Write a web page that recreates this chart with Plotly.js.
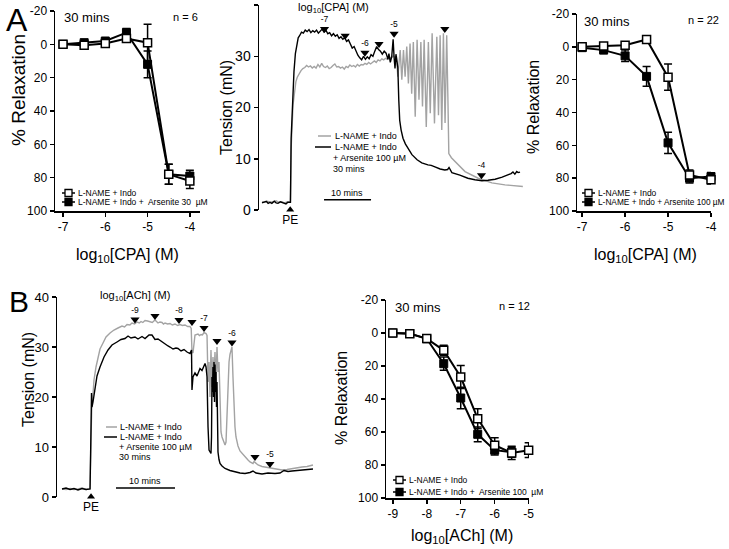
<!DOCTYPE html>
<html><head><meta charset="utf-8">
<script src="https://cdn.plot.ly/plotly-3.0.1.min.js"></script>
<style>html,body{margin:0;padding:0;background:#fff}#chart{width:729px;height:549px}</style>
</head><body><div id="chart"></div>
<script>
// ---------- Panel A (left): CPA, arsenite 30 µM, n = 6 ----------
const cpaDoses = [-7, -6.5, -6, -5.5, -5, -4.5, -4];
const aLeftIndo = [0, 0.5, -0.5, -3.5, -1, 78, 82];
const aLeftIndoErr = [1, 1, 1, 2, 11, 6, 4.5];
const aLeftArs = [0, -1, -2, -7, 12, 78, 79];
const aLeftArsErr = [1, 1, 1, 2.5, 8, 6, 3.5];

// ---------- Panel A (right): CPA, arsenite 100 µM, n = 22 ----------
const aRightIndo = [0, -0.5, -1, -4.5, 18.5, 78, 81];
const aRightIndoErr = [1.5, 1, 1, 2, 8, 3, 2.5];
const aRightArs = [0.5, 2, 5.5, 18, 58.5, 80, 79];
const aRightArsErr = [1.5, 1.5, 3.5, 6, 6.5, 3, 2.5];

// ---------- Panel B (right): ACh, arsenite 100 µM, n = 12 ----------
const achDoses = [-9, -8.5, -8, -7.5, -7, -6.5, -6, -5.5, -5];
const bRightIndo = [0, 0.4, 3.4, 10.5, 26.7, 51.9, 68, 72.7, 71];
const bRightIndoErr = [1, 1, 1.5, 3, 7, 6, 4.5, 4, 4.5];
const bRightArs = [0, 0.3, 3.5, 18.6, 39.4, 61.4, 71, 72.3, null];
const bRightArsErr = [1, 1, 1.5, 4, 6.5, 4.5, 3, 3, 0];

// ---------- Panel A (middle): tension trace, CPA (time in min, tension in mN) ----------
const aGreyTime = [0,0.6,1.2,1.8,2.4,3.0,3.6,4.2,4.8,5.4,5.9,6.05,6.2,6.4,6.6,6.8,7.0,7.2,7.5,7.7,8.0,8.3,8.7,9.1,9.5,9.9,10.3,10.7,11.1,11.5,11.9,12.3,12.7,13.1,13.5,13.9,14.3,14.7,15.1,15.5,15.9,16.3,16.7,17.1,17.5,17.9,18.3,18.7,19.1,19.5,19.9,20.3,20.7,21.1,21.5,21.9,22.3,22.7,23.1,23.5,23.9,24.3,24.7,25.1,25.5,25.9,26.3,26.7,27.1,27.5,27.9,28.3,28.6,28.9,29.4,29.75,30.1,30.45,30.8,31.15,31.5,31.85,32.2,32.6,33.0,33.4,33.8,34.15,34.5,34.95,35.4,35.8,36.2,36.7,37.2,37.55,37.9,38.25,38.6,38.95,39.3,39.55,39.75,40.3,41.5,43.2,46.0,48.9,51.7,54.5,55.5];
const aGreyTension = [1.6,1.5,1.7,1.5,1.6,1.8,1.5,1.6,1.4,1.6,1.5,1.6,12,18,20.5,22,23.8,25,25.9,26.3,26.9,27.2,27.6,27.8,28.2,27.9,28.1,27.7,28.0,27.7,28.4,27.9,28.6,28.0,27.8,28.1,27.6,27.8,28.2,28.5,27.9,28.0,27.7,27.9,27.5,28.0,27.8,28.3,28.0,28.2,27.9,28.4,28.1,28.4,28.3,28.6,28.4,28.8,28.5,28.9,29.1,28.8,29.3,29.1,29.5,29.3,29.6,29.4,29.9,29.6,30.1,29.7,30.0,26.0,31.2,25.4,31.2,26.0,31.9,24.7,32.5,22.7,32.8,18.2,33.2,21.5,32.8,20.2,33.2,16.2,32.8,18.9,34.5,16.9,33.8,18.5,34.1,15.6,34.5,17.0,34.1,22,11,10.2,9.1,7.5,6.2,5.3,4.9,4.7,4.6];
const aBlackTime = [0,0.5,0.9,1.3,1.7,2.1,2.6,3.0,3.4,3.9,4.3,4.7,5.1,5.5,5.9,6.05,6.2,6.5,6.8,7.1,7.4,7.7,8.0,8.4,8.8,9.2,9.6,10.0,10.4,10.8,11.2,11.6,12.0,12.4,12.8,13.2,13.6,14.0,14.4,14.8,15.2,15.6,16.0,16.4,16.8,17.2,17.6,18.0,18.4,18.8,19.2,19.6,20.0,20.4,20.8,21.2,21.6,22.0,22.4,22.8,23.2,23.6,24.0,24.4,24.8,25.2,25.6,26.0,26.4,26.8,27.0,27.3,27.6,27.9,28.1,28.3,28.5,28.7,28.9,29.1,29.3,29.6,30.0,30.5,31.1,31.9,33.0,34.0,35.3,36.0,36.8,37.9,38.9,39.5,39.8,40.1,40.4,42.1,43.8,45.3,46.8,48.1,49.6,51.1,52.3,53.0,53.4,53.8,54.2,54.5,54.9];
const aBlackTension = [1.4,1.6,1.7,1.3,1.5,1.3,1.7,1.4,1.3,1.6,1.5,1.3,1.2,1.5,1.4,1.5,14,22,27,30.5,32.5,33.6,34.0,34.7,34.5,35.1,34.8,35.2,34.6,35.0,34.7,35.1,34.5,35.0,35.3,34.7,35.1,34.4,34.6,34.0,34.4,33.9,34.2,33.5,33.8,33.3,33.6,32.9,33.2,32.4,31.6,31.9,31.0,30.2,29.7,29.3,30.0,29.4,29.9,29.5,30.3,30.0,31.0,31.9,31.3,31.0,30.4,31.0,30.6,29.4,30.5,28.8,29.9,33.3,29.8,27.6,30.4,28.3,27.8,21.5,17.5,15.6,14,12.9,12,10.8,9.8,9.2,8.8,8.7,8.4,8.0,7.8,7.9,8.3,7.6,7.3,6.8,6.2,5.9,5.7,5.8,6.0,6.4,6.8,7.1,7.4,7.0,7.5,7.3,7.4];
const aArrowTime = [13.3, 17.7, 21.9, 24.9, 28.1, 38.9, 46.7];
const aArrowTension = [35.3, 34.0, 30.7, 32.4, 34.4, 35.3, 6.8];
const aArrowLabels = ['-7', '', '-6', '', '-5', '', '-4'];
const aPETime = [6.0], aPETension = [0.05];
const aScaleStart = 13.2, aScaleLen = 10, aScaleLevel = 2.0;

// ---------- Panel B (left): tension trace, ACh ----------
const bGreyTime = [0,0.7,1.4,2.0,2.7,3.4,4.1,4.75,4.92,5.08,5.25,5.42,5.76,6.10,6.44,6.95,7.46,8.14,8.81,9.49,10.17,10.6,11.02,11.5,11.86,12.3,12.71,13.1,13.39,13.7,14.07,14.5,14.92,15.3,15.76,16.0,16.27,16.6,16.95,17.2,17.46,17.9,18.31,18.7,19.15,19.6,20.0,20.4,20.85,21.3,21.69,21.9,22.03,22.2,22.37,22.54,23.05,23.3,23.56,23.8,24.07,24.41,24.58,24.75,24.92,25.08,25.25,25.42,25.59,25.76,25.93,26.10,26.27,26.44,26.61,26.78,26.95,27.12,27.46,27.63,27.80,27.97,28.14,28.31,28.47,28.64,28.81,28.98,29.15,29.32,29.49,29.83,30.17,30.51,31.02,31.53,31.86,32.37,32.54,32.71,33.22,33.90,34.75,35.59,36.44,37.29,38.14,38.98,39.83,40.68,41.53,42.20,42.54];
const bGreyTension = [1.6,1.5,1.7,1.5,1.6,1.8,1.5,1.6,12,19.5,20.5,23.4,26,28,29.6,30.8,32,32.8,33.4,33.8,34.2,34.0,34.5,34.4,34.8,34.6,35.0,34.8,35.1,34.9,35.3,35.2,35.1,34.9,35.4,35.0,34.8,35.0,34.9,34.6,34.8,34.6,34.7,34.4,34.6,34.3,34.5,34.3,34.4,34.1,34.1,33.7,29,28.8,31,32.4,32.6,32.3,32.5,32.4,32.9,32.7,32.3,23,27,20,29.4,22,28,24,29,23,30,25,27,18,13,12,10.6,10.4,11,16,24.8,27,28.5,29.7,30,24,18.2,14,12,10.2,9.2,8.7,8.0,7.4,7.0,6.7,7.1,6.9,6.4,6.1,5.9,5.7,5.5,5.4,5.5,5.7,5.8,6.0,6.1,6.3,6.4];
const bBlackTime = [0,0.68,1.36,2.03,2.71,3.39,4.07,4.75,4.92,5.0,5.08,5.25,5.59,5.93,6.44,7.12,7.80,8.47,9.32,10.0,10.68,11.19,11.69,12.37,12.88,13.56,14.07,14.75,15.25,15.76,16.27,16.95,17.46,17.97,18.31,18.81,19.32,19.66,20.17,20.68,21.19,21.69,21.95,22.03,22.20,22.54,22.88,23.39,23.73,24.24,24.41,24.58,24.75,24.92,25.25,25.34,25.42,25.5,25.59,25.68,25.76,25.85,25.93,26.02,26.10,26.19,26.27,26.36,26.44,26.61,26.78,27.12,27.63,28.47,29.32,30.17,31.02,31.86,32.37,32.88,33.90,34.92,36.10,36.95,37.63,38.31,38.98,40.0,41.19,42.54];
const bBlackTension = [1.6,1.8,1.5,1.7,1.4,1.7,1.5,1.6,14,20.8,18,19,22,24.2,26,28,29.4,30.4,31,31.5,31.7,32.2,31.8,32,31.6,32.1,31.7,32.4,32.4,31.5,31.6,31,30.6,30.2,30,29.6,29.8,29.7,29.2,29.5,29,28.7,29.4,21.4,24,24.8,24.2,25.7,25.3,26.7,26.0,24,14,9.4,8.7,12,24,21,26,20,27,19,26.5,21,25,18,23,13,9,7.5,6.7,6.2,5.7,5.3,5.0,4.8,4.7,4.9,5.2,4.8,4.6,4.8,4.7,4.8,5.3,5.1,5.2,5.3,5.4,5.6];
const bArrowTime = [12.37, 15.76, 19.83, 22.03, 24.07, 26.27, 28.81, 32.71, 35.25];
const bArrowTension = [35.5, 36.2, 35.4, 35.0, 33.8, 31.2, 30.9, 8.0, 6.6];
const bArrowLabels = ['-9', '', '-8', '', '-7', '', '-6', '', '-5'];
const bPETime = [4.92], bPETension = [0.05];
const bScaleStart = 9.15, bScaleLen = 10, bScaleLevel = 1.8;

// ---------- tick labels ----------
const relaxTicks = [-20, 0, 20, 40, 60, 80, 100];
const relaxTickText = ['-20', '0', '20', '40', '60', '80', '100'];
const cpaTicks = [-7, -6, -5, -4];
const cpaTickText = ['-7', '-6', '-5', '-4'];
const achTicks = [-9, -8, -7, -6, -5];
const achTickText = ['-9', '-8', '-7', '-6', '-5'];
const tensionTicks = [0, 10, 20, 30, 40];

// ---------- layout helpers ----------
const W = 729, H = 549;
const F = 'Arial, "Liberation Sans", sans-serif';
const PX = x => x / W, PY = y => 1 - y / H;
const GREY = '#a3a3a3';

function ax(o) {
  return Object.assign({
    showline: true, linecolor: '#000', linewidth: 1.5, ticks: 'outside', ticklen: 4,
    tickwidth: 1.5, tickcolor: '#000', showgrid: false, zeroline: false, fixedrange: true,
    tickfont: {family: F, size: 12, color: '#000'}
  }, o);
}

function doseTraces(xa, ya, x, indo, indoErr, ars, arsErr) {
  const common = {type: 'scatter', mode: 'lines+markers', x: x, xaxis: xa, yaxis: ya,
    line: {color: '#000', width: 2}, cliponaxis: false, hoverinfo: 'skip'};
  return [
    Object.assign({}, common, {y: ars, name: 'L-NAME + Indo + Arsenite',
      error_y: {type: 'data', array: arsErr, color: '#000', thickness: 1.5, width: 4},
      marker: {symbol: 'square', size: 8, color: '#000', line: {color: '#000', width: 1}}}),
    Object.assign({}, common, {y: indo, name: 'L-NAME + Indo',
      error_y: {type: 'data', array: indoErr, color: '#000', thickness: 1.5, width: 4},
      marker: {symbol: 'square', size: 8, color: '#fff', line: {color: '#000', width: 1.5}}})
  ];
}

function traceLines(xa, ya, gt, gv, bt, bv) {
  return [
    {type: 'scatter', mode: 'lines', x: gt, y: gv, xaxis: xa, yaxis: ya, name: 'L-NAME + Indo',
      line: {color: GREY, width: 1.4}, hoverinfo: 'skip'},
    {type: 'scatter', mode: 'lines', x: bt, y: bv, xaxis: xa, yaxis: ya, name: 'L-NAME + Indo + Arsenite 100 µM',
      line: {color: '#000', width: 1.4}, hoverinfo: 'skip'}
  ];
}

function arrows(xa, ya, t, v, labels, peT, peV) {
  const idx = labels.map((l, i) => l ? i : -1).filter(i => i >= 0);
  return [
    {type: 'scatter', mode: 'markers', x: t, y: v, xaxis: xa, yaxis: ya,
      marker: {symbol: 'triangle-down', size: 8, color: '#000'}, cliponaxis: false, hoverinfo: 'skip'},
    {type: 'scatter', mode: 'markers+text', x: idx.map(i => t[i]), y: idx.map(i => v[i]), text: idx.map(i => labels[i]),
      xaxis: xa, yaxis: ya, textposition: 'top center', textfont: {family: F, size: 8.5, color: '#000'},
      marker: {size: 6, color: 'rgba(0,0,0,0)'}, cliponaxis: false, hoverinfo: 'skip'},
    {type: 'scatter', mode: 'markers+text', x: peT, y: peV, text: ['PE'], xaxis: xa, yaxis: ya,
      textposition: 'bottom center', textfont: {family: F, size: 12, color: '#000'},
      marker: {symbol: 'triangle-up', size: 7, color: '#000'}, cliponaxis: false, hoverinfo: 'skip'}
  ];
}

const data = [].concat(
  doseTraces('x', 'y', cpaDoses, aLeftIndo, aLeftIndoErr, aLeftArs, aLeftArsErr),
  traceLines('x2', 'y2', aGreyTime, aGreyTension, aBlackTime, aBlackTension),
  arrows('x2', 'y2', aArrowTime, aArrowTension, aArrowLabels, aPETime, aPETension),
  doseTraces('x3', 'y3', cpaDoses, aRightIndo, aRightIndoErr, aRightArs, aRightArsErr),
  traceLines('x4', 'y4', bGreyTime, bGreyTension, bBlackTime, bBlackTension),
  arrows('x4', 'y4', bArrowTime, bArrowTension, bArrowLabels, bPETime, bPETension),
  doseTraces('x5', 'y5', achDoses, bRightIndo, bRightIndoErr, bRightArs, bRightArsErr)
);

function txt(text, x, y, size, opts) {
  return Object.assign({text: text, x: PX(x), y: PY(y), xref: 'paper', yref: 'paper',
    showarrow: false, xanchor: 'center', yanchor: 'middle',
    font: {family: F, size: size, color: '#000'}}, opts || {});
}

const annotations = [
  txt('A', 17, 20, 32), txt('B', 19, 301, 30),
  // A left
  txt('% Relaxation', 19, 90, 19, {textangle: -90}),
  txt('30 mins', 62, 17, 13, {xanchor: 'left'}),
  txt('n = 6', 200, 17, 11, {xanchor: 'right'}),
  txt('log<sub>10</sub>[CPA] (M)', 127, 255, 16),
  txt('L-NAME + Indo', 76, 193, 8.5, {xanchor: 'left'}),
  txt('L-NAME + Indo +  Arsenite 30  µM', 76, 202, 8.5, {xanchor: 'left'}),
  // A middle
  txt('Tension (mN)', 226, 108, 16, {textangle: -90}),
  txt('log<sub>10</sub>[CPA] (M)', 333, 8, 11),
  txt('L-NAME + Indo', 333, 136, 9, {xanchor: 'left'}),
  txt('L-NAME + Indo', 333, 147, 9, {xanchor: 'left'}),
  txt('+ Arsenite 100 µM', 331, 158, 9, {xanchor: 'left'}),
  txt('30 mins', 331, 169, 9, {xanchor: 'left'}),
  txt('10 mins', 347, 193, 9),
  // A right
  txt('% Relaxation', 533, 107, 16, {textangle: -90}),
  txt('30 mins', 582, 21, 13, {xanchor: 'left'}),
  txt('n = 22', 721, 20, 11, {xanchor: 'right'}),
  txt('log<sub>10</sub>[CPA] (M)', 645, 255, 16),
  txt('L-NAME + Indo', 596, 193, 8.5, {xanchor: 'left'}),
  txt('L-NAME + Indo + Arsenite 100 µM', 596, 202, 8.3, {xanchor: 'left'}),
  // B left
  txt('Tension (mN)', 28, 380, 16, {textangle: -90}),
  txt('log<sub>10</sub>[ACh] (M)', 135, 296, 11),
  txt('L-NAME + Indo', 118, 427, 9, {xanchor: 'left'}),
  txt('L-NAME + Indo', 118, 437, 9, {xanchor: 'left'}),
  txt('+ Arsenite 100 µM', 117, 447, 9, {xanchor: 'left'}),
  txt('30 mins', 117, 457, 9, {xanchor: 'left'}),
  txt('10 mins', 145, 481, 9),
  // B right
  txt('% Relaxation', 341, 398, 16, {textangle: -90}),
  txt('30 mins', 393, 307, 13, {xanchor: 'left'}),
  txt('n = 12', 532, 306, 11, {xanchor: 'right'}),
  txt('log<sub>10</sub>[ACh] (M)', 462, 536, 16),
  txt('L-NAME + Indo', 407, 480, 8.5, {xanchor: 'left'}),
  txt('L-NAME + Indo +  Arsenite 100  µM', 407, 492, 8.5, {xanchor: 'left'})
];

function legLine(x0, x1, y, color) {
  return {type: 'line', xref: 'paper', yref: 'paper', x0: PX(x0), x1: PX(x1), y0: PY(y), y1: PY(y),
    line: {color: color, width: 1.5}};
}
function legSquare(cx, cy, filled) {
  return {type: 'rect', xref: 'paper', yref: 'paper', x0: PX(cx - 3.5), x1: PX(cx + 3.5),
    y0: PY(cy - 3.5), y1: PY(cy + 3.5), fillcolor: filled ? '#000' : '#fff',
    line: {color: '#000', width: 1.3}};
}
const shapes = [
  // scale bars (data coordinates)
  {type: 'line', xref: 'x2', yref: 'y2', x0: aScaleStart, x1: aScaleStart + aScaleLen,
    y0: aScaleLevel, y1: aScaleLevel, line: {color: '#000', width: 1.5}},
  {type: 'line', xref: 'x4', yref: 'y4', x0: bScaleStart, x1: bScaleStart + bScaleLen,
    y0: bScaleLevel, y1: bScaleLevel, line: {color: '#000', width: 1.5}},
  // A middle legend
  legLine(318, 331, 136, GREY), legLine(315, 331, 147, '#000'),
  // B left legend
  legLine(106, 117, 427, GREY), legLine(104, 117, 437, '#000'),
  // scatter legends
  legLine(62, 75, 193, '#000'), legSquare(68.5, 193, false),
  legLine(62, 75, 202, '#000'), legSquare(68.5, 202, true),
  legLine(582, 595, 193, '#000'), legSquare(588.5, 193, false),
  legLine(582, 595, 202, '#000'), legSquare(588.5, 202, true),
  legLine(393, 406, 480, '#000'), legSquare(399.5, 480, false),
  legLine(393, 406, 492, '#000'), legSquare(399.5, 492, true)
];

const layout = {
  width: W, height: H, margin: {l: 0, r: 0, t: 0, b: 0},
  paper_bgcolor: '#fff', plot_bgcolor: 'rgba(0,0,0,0)', showlegend: false,
  font: {family: F, color: '#000'},
  xaxis: ax({domain: [PX(55), PX(200)], anchor: 'y', range: [-7.19, -3.76],
    tickvals: cpaTicks, ticktext: cpaTickText}),
  yaxis: ax({domain: [PY(211), PY(11)], anchor: 'x', range: [100, -20],
    tickvals: relaxTicks, ticktext: relaxTickText}),
  xaxis2: ax({domain: [PX(259), PX(525)], anchor: 'y2', range: [-0.64, 55.96], visible: false}),
  yaxis2: ax({domain: [PY(210), PY(5)], anchor: 'x2', range: [0, 40],
    tickvals: tensionTicks, tickfont: {family: F, size: 14, color: '#000'}}),
  xaxis3: ax({domain: [PX(577), PX(711)], anchor: 'y3', range: [-7.12, -4.0],
    tickvals: cpaTicks, ticktext: cpaTickText}),
  yaxis3: ax({domain: [PY(211), PY(14)], anchor: 'x3', range: [100, -20],
    tickvals: relaxTicks, ticktext: relaxTickText}),
  xaxis4: ax({domain: [PX(57), PX(320)], anchor: 'y4', range: [-0.85, 43.73], visible: false}),
  yaxis4: ax({domain: [PY(497), PY(297)], anchor: 'x4', range: [0, 40],
    tickvals: tensionTicks, tickfont: {family: F, size: 13, color: '#000'}}),
  xaxis5: ax({domain: [PX(386), PX(529)], anchor: 'y5', range: [-9.2, -4.99],
    tickvals: achTicks, ticktext: achTickText}),
  yaxis5: ax({domain: [PY(498), PY(300)], anchor: 'x5', range: [100, -20],
    tickvals: relaxTicks, ticktext: relaxTickText}),
  annotations: annotations,
  shapes: shapes
};

Plotly.newPlot('chart', data, layout, {staticPlot: true, displayModeBar: false});
</script>
</body></html>
